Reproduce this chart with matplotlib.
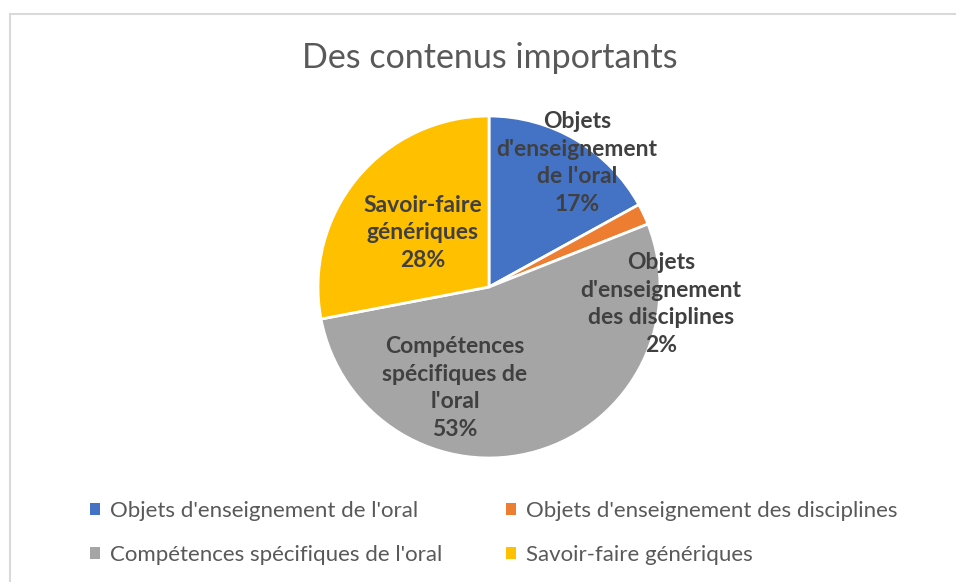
import matplotlib
matplotlib.use("Agg")
import matplotlib.pyplot as plt
from matplotlib.patches import Rectangle

plt.rcParams['font.family'] = ['Lato', 'DejaVu Sans']

categories = ["Objets d'enseignement de l'oral",
              "Objets d'enseignement des disciplines",
              "Compétences spécifiques de l'oral",
              "Savoir-faire génériques"]
inner_labels = ["Objets\nd'enseignement\nde l'oral",
                "Objets\nd'enseignement\ndes disciplines",
                "Compétences\nspécifiques de\nl'oral",
                "Savoir-faire\ngénériques"]
values = [17, 2, 53, 28]
colors = ['#4472c4', '#ed7d31', '#a5a5a5', '#ffc000']
label_pos = [(0.515, 0.725), (1.006, -0.099), (-0.199, -0.591), (-0.386, 0.316)]

W, H = 956, 582
fig = plt.figure(figsize=(W / 100, H / 100), dpi=100)

# light chart-area frame
fig.patches.append(Rectangle((10 / W, -0.1), 1.2, 1 - 14 / H + 0.1,
                             transform=fig.transFigure, fill=False,
                             edgecolor='#d9d9d9', linewidth=1.5))

cx, cy, r = 489, 287, 171
ax = fig.add_axes([(cx - r) / W, (H - cy - r) / H, 2 * r / W, 2 * r / H])
wedges, _ = ax.pie(values, colors=colors, startangle=90, counterclock=False,
                   radius=1, wedgeprops=dict(edgecolor='white', linewidth=2))
ax.set_xlim(-1, 1)
ax.set_ylim(-1, 1)
ax.set_aspect('equal')
ax.axis('off')

total = sum(values)
for lab, v, (x, y) in zip(inner_labels, values, label_pos):
    ax.text(x, y, f"{lab}\n{round(100 * v / total)}%", ha='center', va='center',
            fontsize=16.5, fontweight='bold', color='#404040', linespacing=1.4)

fig.text(490 / W, 1 - 58 / H, "Des contenus importants", ha='center', va='center',
         fontsize=24.5, color='#595959')

# legend filled row by row
order = [0, 2, 1, 3]
handles = [Rectangle((0, 0), 1, 1, facecolor=colors[i]) for i in order]
leg = fig.legend(handles, [categories[i] for i in order], loc='center', ncol=2,
                 bbox_to_anchor=(494 / W, 1 - 533 / H), frameon=False,
                 fontsize=16, labelcolor='#595959', handlelength=0.45,
                 handleheight=0.45, handletextpad=0.45, columnspacing=2.85,
                 labelspacing=1.05)

fig.savefig("out.png", dpi=100, facecolor='white')
